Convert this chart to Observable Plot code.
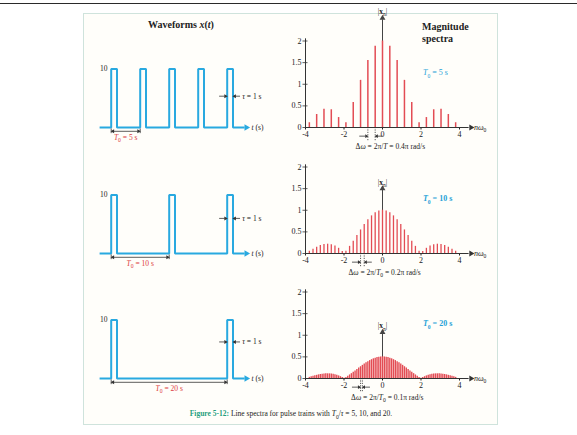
<!DOCTYPE html>
<html><head><meta charset="utf-8">
<script src="https://cdn.jsdelivr.net/npm/d3@7"></script>
<script src="https://cdn.jsdelivr.net/npm/@observablehq/plot@0.6"></script>
<style>
body{margin:0;background:#fff;}
#root{position:relative;width:577px;height:435px;overflow:hidden;font-family:"Liberation Serif","Times New Roman",serif;color:#222;}
#topline{position:absolute;left:0;top:3px;width:577px;height:1px;background:#2a2a2a;}
#frame{position:absolute;left:83px;top:13px;width:413px;height:410px;border:1.5px solid #cfe3dc;background:#fffefa;}
.abs{position:absolute;white-space:nowrap;}
#root svg{position:absolute;overflow:visible;}
</style></head><body><div id="root">
<div id="topline"></div>
<div id="frame"></div>
<div class="abs" style="left:81px;top:19px;width:200px;text-align:center;font-weight:bold;font-size:10px;">Waveforms <i>x</i>(<i>t</i>)</div>
<div class="abs" style="left:422px;top:21px;font-weight:bold;font-size:10px;line-height:11.5px;">Magnitude<br>spectra</div>
<div class="abs" style="left:83px;top:409px;width:416px;text-align:center;font-size:7.5px;"><span style="color:#1f9e7e;font-weight:bold;">Figure 5-12:</span> Line spectra for pulse trains with <i>T</i><sub style="font-size:5.5px">0</sub>/<i>τ</i> = 5, 10, and 20.</div>
</div>
<script>
const RED = "#e34c54", CYAN = "#29a9e0", BLUE = "#27a2d8", LABELRED = "#dc3b40", INK = "#333";
const FONT = '"Liberation Serif","Times New Roman",serif';

// ---------- Spectra data (|x_n| for n = 0..N, symmetric in n) ----------
const specSpacing = [0.38, 0.19, 0.095];
const specMag1 = [2.0, 1.88, 1.55, 1.09, 0.58, 0.11, 0.23, 0.41, 0.42, 0.30, 0.11];
const specMag2 = [1.0, 0.985, 0.94, 0.87, 0.78, 0.67, 0.545, 0.415, 0.285, 0.165, 0.05,
                  0.045, 0.12, 0.175, 0.205, 0.215, 0.21, 0.185, 0.145, 0.10, 0.05];
const specMag3 = [0.5, 0.498, 0.493, 0.483, 0.47, 0.455, 0.435, 0.414, 0.39, 0.363, 0.334,
                  0.304, 0.272, 0.24, 0.208, 0.175, 0.143, 0.112, 0.082, 0.053, 0.026,
                  0.004, 0.021, 0.042, 0.06, 0.074, 0.087, 0.096, 0.103, 0.107, 0.108,
                  0.108, 0.104, 0.099, 0.092, 0.084, 0.073, 0.063, 0.051, 0.039, 0.026];
const specMags = [specMag1, specMag2, specMag3];
const yTicks = [0, 0.5, 1, 1.5, 2];
const xTicks = [-4, -2, 0, 2, 4];
const xAxisEnd = 4.6;
const arrowTops = [2.53, 1.5, 1.07];
const dwLines = [[-2, -1], [-6, -5], [-12, -11]];
const dwTexts = ["Δ*ω* = 2π/*T* = 0.4π rad/s", "Δ*ω* = 2π/*T*_0 = 0.2π rad/s", "Δ*ω* = 2π/*T*_0 = 0.1π rad/s"];
const dwTextX = [-1.4, -1.77, -1.63];
const t0SpecLabels = ["*T*_0 = 5 s", "*T*_0 = 10 s", "*T*_0 = 20 s"];
const t0SpecBold = ["normal", "bold", "bold"];

// ---------- Waveform data ----------
const periods = [5, 10, 20];
const pulseStarts = [[0, 5, 10, 15, 20], [0, 10, 20], [0, 20]];
const tau = 1, amp = 10;
const tStart = -2, tEnd = 23.3;
const tauArrowY = [5.35, 6.0, 6.25];
const t0Labels = ["*T*_0 = 5 s", "*T*_0 = 10 s", "*T*_0 = 20 s"];

const panelBase = [127.3, 253.3, 378.3];

function richify(svg) {
  svg.querySelectorAll("text").forEach(t => {
    const s = t.textContent;
    if (!/[*#_]/.test(s)) return;
    const fs = parseFloat(t.getAttribute("font-size") || getComputedStyle(t).fontSize) || 8;
    const segs = [];
    let it = false, bd = false, buf = "";
    const push = (sub) => { if (buf) segs.push({text: buf, it, bd, sub}); buf = ""; };
    for (let i = 0; i < s.length; i++) {
      const c = s[i];
      if (c === "*") { push(false); it = !it; }
      else if (c === "#") { push(false); bd = !bd; }
      else if (c === "_") { push(false); buf = s[i + 1] || ""; i++; push(true); }
      else buf += c;
    }
    push(false);
    t.textContent = "";
    let shifted = false;
    for (const g of segs) {
      const ts = document.createElementNS("http://www.w3.org/2000/svg", "tspan");
      ts.textContent = g.text;
      if (g.it) ts.setAttribute("font-style", "italic");
      if (g.bd) ts.setAttribute("font-weight", "bold");
      if (g.sub) { ts.setAttribute("font-size", (fs * 0.7) + "px"); ts.setAttribute("dy", (fs * 0.3) + "px"); shifted = true; }
      else if (shifted) { ts.setAttribute("dy", (-fs * 0.3) + "px"); shifted = false; }
      t.appendChild(ts);
    }
  });
}

const root = document.getElementById("root");
const baseStyle = {background: "transparent", fontFamily: FONT, fontSize: "8px", color: "#222", overflow: "visible"};

function tri(x, y, rot, r, fill) {
  return Plot.dot([0], {x: () => x, y: () => y, symbol: "triangle", rotate: rot, r, fill, stroke: null});
}

function spectrum(i) {
  const sp = specSpacing[i], mags = specMags[i];
  const N = mags.length - 1;
  const pts = [];
  for (let n = -N; n <= N; n++) pts.push({w: n * sp, m: mags[Math.abs(n)]});
  const W = 215, H = 150, L = 280, T = panelBase[i] - 119;
  const p1 = dwLines[i][0] * sp, p2 = dwLines[i][1] * sp;
  const svg = Plot.plot({
    width: W, height: H,
    marginLeft: 25, marginRight: 36, marginTop: 32.5, marginBottom: 31,
    x: {domain: [-4, 4]}, y: {domain: [0, 2]},
    style: baseStyle,
    marks: [
      Plot.axisY({ticks: yTicks, tickFormat: d => String(d), tickSize: 0, tickPadding: 4, label: null, fontSize: 8}),
      Plot.axisX({ticks: xTicks, tickFormat: d => String(d), tickSize: 2.5, tickPadding: 1.5, label: null, fontSize: 8}),
      Plot.ruleY(yTicks, {x1: -4.13, x2: -3.87, stroke: INK, strokeWidth: 0.8}),
      Plot.ruleX([-4], {y1: 0, y2: 2.05, stroke: INK, strokeWidth: 1}),
      Plot.ruleY([0], {x1: -4, x2: xAxisEnd - 0.1, stroke: INK, strokeWidth: 1}),
      tri(xAxisEnd, 0, 90, 2.2, INK),
      Plot.ruleX([0], {y1: 0, y2: arrowTops[i] - 0.04, stroke: "#444", strokeWidth: 1}),
      tri(0, arrowTops[i], 0, 2.2, "#444"),
      Plot.ruleX(pts, {x: "w", y1: 0, y2: "m", stroke: RED, strokeWidth: i === 0 ? 1.5 : (i === 1 ? 1.3 : 1.4)}),
      Plot.text(["*nω*_0"], {x: () => xAxisEnd + 0.15, y: () => 0, text: d => d, textAnchor: "start", fontSize: 8}),
      Plot.text(["|#x#_n|"], {x: () => 0, y: () => arrowTops[i], text: d => d, lineAnchor: "bottom", dy: -4, fontSize: 7.5}),
      Plot.ruleX([p1, p2], {x: d => d, y1: 0, y2: -0.33, stroke: INK, strokeWidth: 0.8, strokeDasharray: "1.2,1.2"}),
      Plot.ruleY([-0.2], {x1: p1 - 0.42, x2: p1 - 0.1, stroke: INK, strokeWidth: 0.8}),
      tri(p1 - 0.08, -0.2, 90, 1.4, INK),
      Plot.ruleY([-0.2], {x1: p2 + 0.1, x2: p2 + 0.42, stroke: INK, strokeWidth: 0.8}),
      tri(p2 + 0.08, -0.2, -90, 1.4, INK),
      Plot.text([dwTexts[i]], {x: () => dwTextX[i], y: () => -0.43, text: d => d, textAnchor: "start", fontSize: 7.5}),
      Plot.text([t0SpecLabels[i]], {x: () => 2.1, y: () => 1.27, text: d => d, textAnchor: "start", fill: BLUE, fontWeight: t0SpecBold[i], fontSize: 8})
    ]
  });
  svg.style.left = L + "px"; svg.style.top = T + "px";
  richify(svg);
  root.appendChild(svg);
}

function waveform(i) {
  const T0 = periods[i], starts = pulseStarts[i];
  const pts = [[tStart, 0]];
  for (const s of starts) pts.push([s, 0], [s, amp], [s + tau, amp], [s + tau, 0]);
  pts.push([tEnd - 0.3, 0]);
  const W = 195, H = 150, L = 85, T = panelBase[i] - 110;
  const lastS = starts[starts.length - 1];
  const ty = tauArrowY[i];
  const svg = Plot.plot({
    width: W, height: H,
    marginLeft: 25.7, marginRight: 53.3, marginTop: 51.5, marginBottom: 40,
    x: {domain: [0, 20], axis: null}, y: {domain: [0, amp], axis: null},
    style: baseStyle,
    marks: [
      Plot.line(pts, {x: d => d[0], y: d => d[1], stroke: CYAN, strokeWidth: 2, strokeLinejoin: "miter", strokeLinecap: "butt"}),
      tri(tEnd, 0, 90, 2.4, CYAN),
      Plot.text(["10"], {x: () => -0.65, y: () => amp, text: d => d, textAnchor: "end", fontSize: 7.5}),
      Plot.text(["*t* (s)"], {x: () => tEnd + 0.9, y: () => 0, text: d => d, textAnchor: "start", fontSize: 7.5}),
      // tau marker
      Plot.ruleY([ty], {x1: lastS - 1.3, x2: lastS - 0.35, stroke: INK, strokeWidth: 0.8}),
      tri(lastS - 0.3, ty, 90, 1.5, INK),
      Plot.ruleY([ty], {x1: lastS + tau + 0.35, x2: lastS + tau + 1.3, stroke: INK, strokeWidth: 0.8}),
      tri(lastS + tau + 0.3, ty, -90, 1.5, INK),
      Plot.text(["*τ* = 1 s"], {x: () => lastS + tau + 1.6, y: () => ty, text: d => d, textAnchor: "start", fontSize: 7.5}),
      // T0 dimension
      Plot.ruleY([-0.65], {x1: 0.35, x2: T0 - 0.35, stroke: INK, strokeWidth: 0.8}),
      tri(0.3, -0.65, -90, 1.5, INK),
      tri(T0 - 0.3, -0.65, 90, 1.5, INK),
      Plot.ruleX([0, T0], {x: d => d, y1: -0.25, y2: -1.05, stroke: INK, strokeWidth: 0.8}),
      Plot.text([t0Labels[i]], {x: () => T0 / 2, y: () => -1.65, text: d => d, fill: LABELRED, fontSize: 7.5, lineAnchor: "middle"})
    ]
  });
  svg.style.left = L + "px"; svg.style.top = T + "px";
  richify(svg);
  root.appendChild(svg);
}

for (let i = 0; i < 3; i++) { waveform(i); spectrum(i); }
</script>
</body></html>
